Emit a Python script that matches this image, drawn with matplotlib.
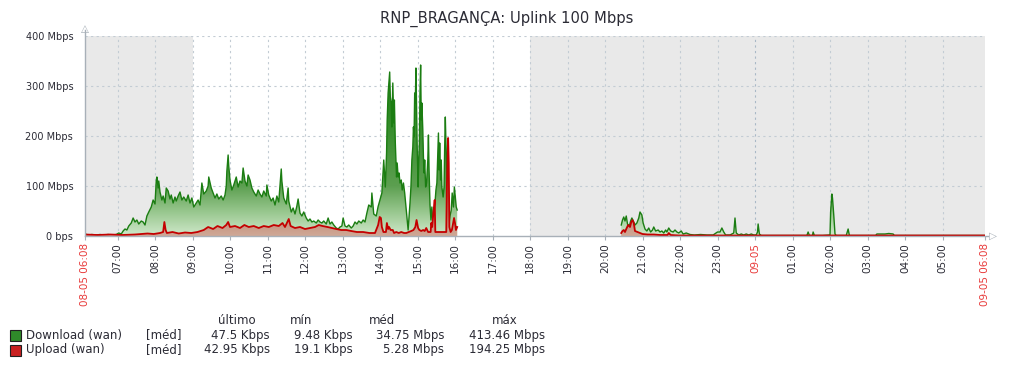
import numpy as np
import matplotlib
matplotlib.use("Agg")
import matplotlib.pyplot as plt
from matplotlib.colors import LinearSegmentedColormap
from matplotlib.patches import Polygon

# minutes since 08-05 06:08, values in Mbps
dl1_t = [0, 5, 11, 18, 24, 30, 37, 43, 50, 54, 58, 61, 64, 67, 70, 74, 77, 80, 83, 86,
         90, 93, 96, 99, 102, 106, 109, 112, 114, 115, 117, 118, 120, 123, 125, 128, 130, 133, 136, 138,
         141, 144, 146, 149, 152, 155, 158, 162, 165, 168, 171, 174, 178, 181, 184, 187, 190, 194, 197, 198,
         202, 205, 208, 211, 214, 218, 221, 224, 226, 227, 229, 230, 232, 235, 238, 242, 245, 248, 251, 253,
         256, 259, 261, 264, 267, 270, 274, 277, 280, 283, 286, 290, 291, 294, 298, 301, 304, 307, 310, 314,
         315, 318, 322, 325, 326, 330, 333, 336, 339, 341, 344, 347, 350, 354, 357, 360, 363, 366, 370, 373,
         376, 379, 382, 386, 389, 392, 395, 398, 402, 405, 408, 411, 413, 416, 419, 422, 426, 429, 432, 435,
         438, 442, 445, 448, 451, 454, 458, 459, 462, 466,
         469, 471.5, 475, 478, 480.5, 482.5, 483.5, 485, 486.5, 487.5, 488.5, 490, 491, 492.5, 494, 495, 496.5, 497.5, 498.5, 499.5,
         501, 502.5, 504, 506, 507.5, 509.5, 511.5, 513, 514.5, 515.5, 517, 518.5, 520, 521.5, 523, 524.5, 525.5, 526.5, 527.5, 528.5,
         529.5, 530.5, 531.5, 533, 534, 535, 536, 537, 538, 539, 540.5, 541.5, 542.5, 543.5, 545, 546.5, 548.5, 549.5, 550.5, 552,
         553.5, 555, 557, 558.5, 560, 561.5, 563, 564.5, 565.5, 566.5, 567.5, 569, 570, 571, 573, 574.5, 575.5, 576.5, 577.5, 578.5,
         579.5, 581, 582.5, 584, 586, 587.5, 589.5, 591, 592.5, 594, 595.5]
dl1_v = [4, 2, 3, 2, 3, 2, 3, 2, 3, 6, 4, 10, 14, 12, 20, 26, 36, 28, 32, 24,
         30, 28, 22, 40, 48, 58, 72, 64, 110, 118, 96, 110, 88, 72, 80, 66, 96, 90, 74, 82,
         66, 78, 70, 80, 88, 72, 78, 70, 82, 66, 76, 58, 66, 72, 62, 106, 84, 90, 100, 118,
         96, 86, 76, 84, 74, 80, 72, 82, 100, 130, 162, 140, 112, 92, 102, 118, 98, 110, 106, 136,
         110, 100, 122, 112, 96, 88, 80, 92, 84, 78, 90, 80, 102, 82, 70, 76, 62, 80, 68, 134,
         110, 76, 64, 96, 70, 48, 56, 44, 60, 74, 46, 40, 48, 36, 30, 34, 28, 30, 26, 32,
         28, 26, 30, 24, 36, 24, 28, 22, 16, 14, 18, 20, 36, 20, 18, 22, 16, 20, 28, 24,
         30, 26, 32, 28, 46, 62, 58, 86, 44, 40,
         59, 70, 86, 152, 98, 166, 232, 286, 312, 328, 278, 266, 218, 306, 226, 272, 186, 152, 118, 146,
         118, 126, 106, 112, 92, 106, 86, 66, 46, 32, 12, 38, 66, 98, 152, 178, 218, 198, 286, 266,
         336, 252, 178, 98, 152, 186, 286, 342, 232, 266, 212, 158, 126, 152, 98, 106, 152, 202, 132, 62,
         32, 58, 18, 46, 66, 92, 106, 166, 206, 132, 186, 112, 152, 98, 78, 98, 178, 238, 186, 152,
         86, 98, 26, 40, 52, 86, 58, 98, 78, 58, 52]

ul1_t = [0, 20, 40, 60, 80, 90, 100, 110, 120, 125, 127, 129, 131, 140, 150, 160, 170, 180, 190, 197,
         205, 212, 220, 226, 229, 232, 240, 248, 255, 262, 270, 278, 286, 294, 302, 310, 316, 320, 326, 329,
         336, 344, 352, 360, 368, 374, 380, 388, 395, 402, 410, 418, 426, 435, 445, 455, 464,
         469, 471.5, 473.5, 475, 477.5, 481.5, 483, 485, 486.5, 489, 492.5, 494.5, 498, 502, 506, 510.5, 514, 518, 522, 525.5,
         528.5, 530.5, 533, 535, 538, 541, 543.5, 546, 549, 553, 554, 555.5, 557.5, 558.5, 559.5, 560.5, 565, 570, 575.5, 578,
         579, 581, 582, 583, 585, 587, 590.5, 592, 593.5, 595.5]
ul1_v = [3, 2, 3, 2, 3, 4, 5, 4, 6, 8, 28, 12, 6, 8, 5, 7, 6, 8, 12, 18,
         14, 20, 16, 22, 28, 18, 20, 16, 22, 18, 20, 16, 20, 18, 22, 20, 26, 18, 34, 20,
         16, 18, 14, 16, 18, 22, 20, 18, 16, 14, 12, 12, 10, 8, 8, 6, 6,
         22, 38, 36, 18, 8, 8, 26, 14, 18, 12, 12, 6, 8, 6, 8, 6, 6, 8, 10, 12,
         18, 32, 16, 12, 10, 12, 10, 16, 8, 8, 26, 18, 48, 58, 72, 8, 8, 8, 8, 8,
         98, 196, 146, 18, 8, 12, 36, 26, 12, 18]

dl2_t = [858, 860, 862, 864, 866, 868, 871, 873, 875, 878, 880, 883, 886, 888, 891, 893, 896, 899, 902, 905,
         908, 910, 913, 917, 920, 923, 926, 929, 931, 934, 937, 941, 944, 947, 950, 954, 957, 962, 968, 975,
         985, 995, 1005, 1012, 1016, 1019, 1022, 1025, 1032, 1038, 1040, 1042, 1046, 1050, 1054, 1058, 1062, 1066, 1070, 1074,
         1076, 1077, 1079, 1082, 1100, 1120, 1140, 1155, 1157, 1159, 1164, 1165, 1167, 1180, 1192, 1193, 1195, 1196, 1198, 1200,
         1202, 1218, 1221, 1223, 1240, 1265, 1267, 1280, 1286, 1293, 1295, 1320, 1360, 1400, 1440]
dl2_v = [22, 32, 38, 30, 40, 24, 20, 30, 36, 28, 22, 26, 36, 48, 42, 26, 14, 10, 16, 8,
         12, 18, 10, 12, 8, 10, 6, 12, 8, 16, 10, 8, 12, 8, 6, 10, 4, 6, 3, 2,
         3, 2, 2, 8, 8, 16, 8, 2, 2, 6, 36, 6, 2, 4, 2, 4, 2, 4, 2, 2,
         8, 24, 4, 1, 1, 1, 1, 1, 8, 1, 1, 8, 1, 1, 2, 48, 84, 76, 42, 4,
         1, 1, 14, 1, 1, 1, 4, 4, 5, 4, 1, 1, 1, 1, 1]

ul2_t = [858, 860, 862, 864, 866, 869, 872, 874, 876, 878, 880, 884, 888, 892, 900, 910, 920, 932, 934, 937,
         950, 1440]
ul2_v = [6, 10, 12, 8, 14, 22, 18, 28, 32, 26, 10, 8, 6, 4, 3, 3, 2, 2, 6, 2,
         1, 1]

hour_labels = ["07:00", "08:00", "09:00", "10:00", "11:00", "12:00", "13:00", "14:00", "15:00",
               "16:00", "17:00", "18:00", "19:00", "20:00", "21:00", "22:00", "23:00", "09-05",
               "01:00", "02:00", "03:00", "04:00", "05:00"]
y_ticks = [0, 100, 200, 300, 400]
y_labels = ["0 bps", "100 Mbps", "200 Mbps", "300 Mbps", "400 Mbps"]

legend_names = ["Download (wan)", "Upload (wan)"]
legend_last = ["47.5 Kbps", "42.95 Kbps"]
legend_min = ["9.48 Kbps", "19.1 Kbps"]
legend_avg = ["34.75 Mbps", "5.28 Mbps"]
legend_max = ["413.46 Mbps", "194.25 Mbps"]

W, H = 1016, 368
fig = plt.figure(figsize=(W / 100, H / 100), dpi=100)
ax = fig.add_axes([85 / W, 1 - 236 / H, 900 / W, 200 / H])

TXT = "#2b2b35"
RED = "#e83a3a"
GRID = "#c3ccd4"
AXC = "#a8b0b8"

# non-working time shading
ax.set_facecolor("white")
ax.axvspan(0, 172, color="#e9e9e9", lw=0, zorder=0)
ax.axvspan(712, 1440, color="#e9e9e9", lw=0, zorder=0)

green_cm = LinearSegmentedColormap.from_list(
    "g", [(0, "#cfe8ca"), (0.12, "#98c78e"), (0.25, "#5c9f50"), (0.6, "#2f8a25"), (1, "#1f7a14")])
red_cm = LinearSegmentedColormap.from_list("r", [(0, "#cfa896"), (0.2, "#b66a55"), (1, "#9a1a10")])
grad = np.linspace(0, 1, 256).reshape(-1, 1)


def grad_fill(t, v, cmap, z):
    verts = [(t[0], 0)] + list(zip(t, v)) + [(t[-1], 0)]
    poly = Polygon(verts, closed=True, facecolor="none", edgecolor="none")
    ax.add_patch(poly)
    im = ax.imshow(grad, cmap=cmap, aspect="auto", extent=[0, 1440, 0, 400],
                   origin="lower", zorder=z, interpolation="bilinear")
    im.set_clip_path(poly)


for t, v in [(dl1_t, dl1_v), (dl2_t, dl2_v)]:
    grad_fill(t, v, green_cm, 2)
    ax.plot(t, v, color="#1b7d12", lw=1.0, zorder=3)
for t, v in [(ul1_t, ul1_v), (ul2_t, ul2_v)]:
    grad_fill(t, v, red_cm, 4)
    ax.plot(t, v, color="#c40000", lw=1.3, zorder=5)

ax.set_xlim(0, 1440)
ax.set_ylim(0, 400)

# grid
hour_pos = [52 + 60 * i for i in range(len(hour_labels))]
for x, lab in zip(hour_pos, hour_labels):
    c = "#a9b8c6" if lab == "09-05" else GRID
    ax.axvline(x, color=c, lw=0.8, ls=(0, (2, 3)), zorder=1)
for y in y_ticks[1:]:
    ax.axhline(y, color=GRID, lw=0.8, ls=(0, (2, 3)), zorder=1)

for s in ["top", "right"]:
    ax.spines[s].set_visible(False)
for s in ["left", "bottom"]:
    ax.spines[s].set_color(AXC)
    ax.spines[s].set_linewidth(1.0)
    ax.spines[s].set_zorder(6)
ax.spines["left"].set_bounds(0, 412)
ax.spines["bottom"].set_bounds(0, 1444)
for s in ["left", "bottom"]:
    ax.spines[s].set_clip_on(False)

xt = [0] + hour_pos + [1440]
xl = ["08-05 06:08"] + hour_labels + ["09-05 06:08"]
ax.set_xticks(xt)
ax.set_xticklabels(xl, rotation=90, fontsize=7.5, color=TXT)
ax.tick_params(axis="x", length=3, color=AXC, pad=2)
for lab in ax.get_xticklabels():
    if "-" in lab.get_text():
        lab.set_color(RED)
ax.set_yticks(y_ticks)
ax.set_yticklabels(y_labels, fontsize=7, color=TXT)
ax.tick_params(axis="y", length=0, pad=8.5)

# axis arrows
fig.text(85 / W, 1 - 29 / H, "\u25b3", ha="center", va="center", fontsize=7.5, color=AXC)
fig.text(993 / W, 1 - 236 / H, "\u25b7", ha="center", va="center", fontsize=7.5, color=AXC)

fig.text(507 / W, 1 - 19 / H, "RNP_BRAGANÇA: Uplink 100 Mbps", ha="center", va="center",
         fontsize=10.6, color=TXT)

# legend
FS = 8.5
fig.text(218 / W, 1 - 321 / H, "último", fontsize=FS, color=TXT, va="center")
fig.text(290 / W, 1 - 321 / H, "mín", fontsize=FS, color=TXT, va="center")
fig.text(369 / W, 1 - 321 / H, "méd", fontsize=FS, color=TXT, va="center")
fig.text(492 / W, 1 - 321 / H, "máx", fontsize=FS, color=TXT, va="center")
sq_colors = ["#2f8a2a", "#c82020"]
for i, name in enumerate(legend_names):
    y = 335 + 15 * i
    fig.patches.append(plt.Rectangle((10 / W, 1 - (y + 6) / H), 11 / W, 11 / H,
                                     transform=fig.transFigure, facecolor=sq_colors[i],
                                     edgecolor="#202020", lw=0.8))
    fig.text(26 / W, 1 - y / H, name, fontsize=FS, color=TXT, va="center")
    fig.text(146 / W, 1 - y / H, "[méd]", fontsize=FS, color=TXT, va="center")
    fig.text(270 / W, 1 - y / H, legend_last[i], fontsize=FS, color=TXT, va="center", ha="right")
    fig.text(353 / W, 1 - y / H, legend_min[i], fontsize=FS, color=TXT, va="center", ha="right")
    fig.text(444 / W, 1 - y / H, legend_avg[i], fontsize=FS, color=TXT, va="center", ha="right")
    fig.text(545 / W, 1 - y / H, legend_max[i], fontsize=FS, color=TXT, va="center", ha="right")

fig.savefig("out.png", dpi=100)
